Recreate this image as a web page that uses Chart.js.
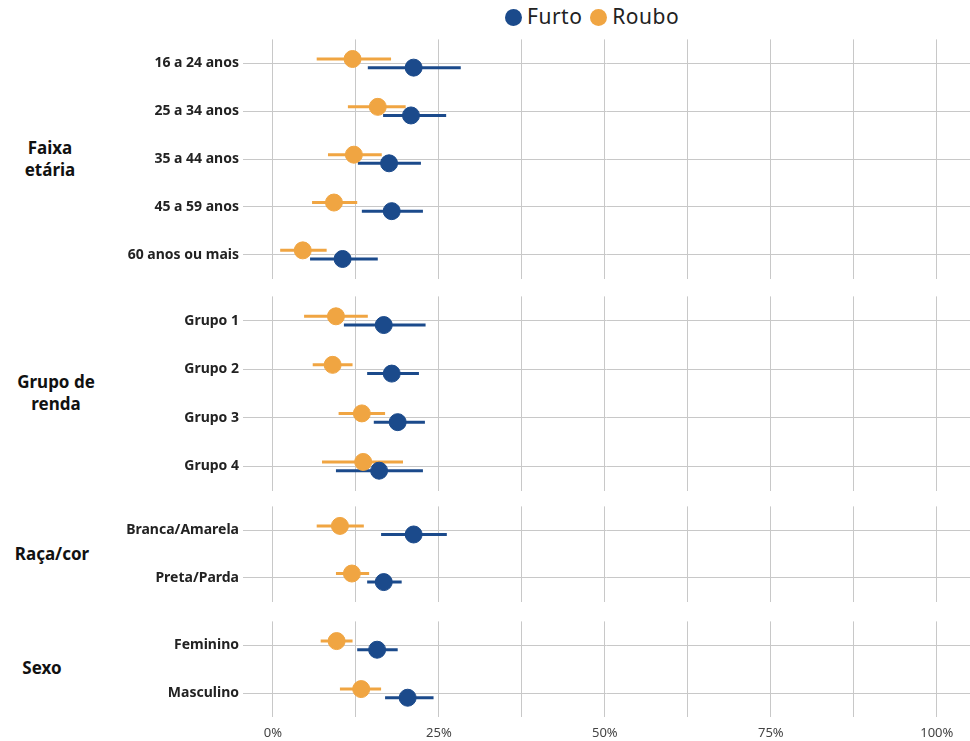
<!DOCTYPE html>
<html><head><meta charset="utf-8">
<script src="https://cdn.jsdelivr.net/npm/chart.js@4.4.1/dist/chart.umd.min.js"></script>
<style>
body{margin:0;background:#fff;width:970px;height:741px;position:relative;overflow:hidden;font-family:"Noto Sans",sans-serif}
.panel{position:absolute;left:0;width:970px}
.facet{position:absolute;left:0;width:100px;text-align:center;font-weight:bold;font-size:17px;color:#111;line-height:22px}
#legend{position:absolute;top:2px;left:505px;font-size:21px;color:#222;letter-spacing:0.5px}
.dot{display:inline-block;width:17px;height:17px;border-radius:50%;vertical-align:-2px;margin-right:5px}
</style></head><body>
<div id="legend"><span class="dot" style="background:#1b4a8b"></span>Furto <span class="dot" style="background:#f0a542;margin-left:2px"></span>Roubo</div>
<div class="facet" style="top:137px">Faixa<br>etária</div>
<div class="facet" style="top:371px;left:6px">Grupo de<br>renda</div>
<div class="facet" style="top:543px;left:2px">Raça/cor</div>
<div class="facet" style="top:657px;left:-8px">Sexo</div>
<div class="panel" style="top:27px;height:264px"><canvas id="p0"></canvas></div>
<div class="panel" style="top:284px;height:219px"><canvas id="p1"></canvas></div>
<div class="panel" style="top:494px;height:120px"><canvas id="p2"></canvas></div>
<div class="panel" style="top:609px;height:140px"><canvas id="p3"></canvas></div>
<script>
// Categories per facet
const idadeCats = ['16 a 24 anos', '25 a 34 anos', '35 a 44 anos', '45 a 59 anos', '60 anos ou mais'];
const rendaCats = ['Grupo 1', 'Grupo 2', 'Grupo 3', 'Grupo 4'];
const racaCats = ['Branca/Amarela', 'Preta/Parda'];
const sexoCats = ['Feminino', 'Masculino'];

// Furto / Roubo (estimate, low, high), in %
const idadeFurto = [21.2, 20.8, 17.5, 17.9, 10.5];
const idadeFurtoLo = [14.3, 16.6, 12.8, 13.4, 5.6];
const idadeFurtoHi = [28.3, 26.1, 22.3, 22.6, 15.8];
const idadeRoubo = [12.0, 15.8, 12.2, 9.2, 4.5];
const idadeRouboLo = [6.6, 11.3, 8.3, 5.9, 1.1];
const idadeRouboHi = [17.8, 20.0, 16.4, 12.7, 8.1];

const rendaFurto = [16.7, 17.9, 18.8, 16.0];
const rendaFurtoLo = [10.7, 14.2, 15.2, 9.5];
const rendaFurtoHi = [23.0, 22.0, 22.9, 22.6];
const rendaRoubo = [9.5, 9.0, 13.4, 13.6];
const rendaRouboLo = [4.7, 6.0, 9.9, 7.4];
const rendaRouboHi = [14.3, 12.0, 16.9, 19.6];

const racaFurto = [21.2, 16.7];
const racaFurtoLo = [16.3, 14.2];
const racaFurtoHi = [26.2, 19.4];
const racaRoubo = [10.1, 11.9];
const racaRouboLo = [6.6, 9.5];
const racaRouboHi = [13.7, 14.5];

const sexoFurto = [15.7, 20.3];
const sexoFurtoLo = [12.7, 16.9];
const sexoFurtoHi = [18.8, 24.2];
const sexoRoubo = [9.6, 13.3];
const sexoRouboLo = [7.2, 10.1];
const sexoRouboHi = [12.0, 16.3];

const xTicks = [0, 25, 50, 75, 100];

const FURTO = '#1b4a8b', ROUBO = '#f0a542';
const DODGE = 0.09;

const errorBars = {
  id: 'errorBars',
  beforeDatasetsDraw(chart) {
    const ctx = chart.ctx, xs = chart.scales.x, ys = chart.scales.y;
    chart.data.datasets.forEach((ds) => {
      ctx.save();
      ctx.strokeStyle = ds.backgroundColor;
      ctx.lineWidth = 3;
      ds.data.forEach((p) => {
        const y = ys.getPixelForValue(p.y);
        ctx.beginPath();
        ctx.moveTo(xs.getPixelForValue(p.lo), y);
        ctx.lineTo(xs.getPixelForValue(p.hi), y);
        ctx.stroke();
      });
      ctx.restore();
    });
  },
};

function makePanel(id, cats, f, fl, fh, r, rl, rh, showX) {
  const toPts = (v, lo, hi, off) => v.map((val, i) => ({ x: val, y: i + off, lo: lo[i], hi: hi[i] }));
  new Chart(document.getElementById(id), {
    type: 'scatter',
    data: {
      datasets: [
        { label: 'Roubo', data: toPts(r, rl, rh, -DODGE), backgroundColor: ROUBO, borderColor: ROUBO, pointRadius: 8.5 },
        { label: 'Furto', data: toPts(f, fl, fh, DODGE), backgroundColor: FURTO, borderColor: FURTO, pointRadius: 8.5 },
      ],
    },
    plugins: [errorBars],
    options: {
      responsive: true,
      maintainAspectRatio: false,
      animation: false,
      layout: { padding: 0, autoPadding: false },
      plugins: { legend: { display: false }, tooltip: { enabled: false } },
      scales: {
        x: {
          min: -4.5, max: 105,
          border: { display: false },
          grid: { color: '#c8c8c8', drawTicks: false },
          afterBuildTicks: (ax) => { ax.ticks = [0, 12.5, 25, 37.5, 50, 62.5, 75, 87.5, 100].map((v) => ({ value: v })); },
          afterFit: showX ? undefined : (ax) => { ax.height = 0; },
          ticks: {
            display: showX,
            padding: 8,
            color: '#444',
            font: { family: "'Noto Sans', sans-serif", size: 13 },
            callback: (v) => (xTicks.includes(v) ? v + '%' : ''),
          },
        },
        y: {
          reverse: true,
          min: -0.5, max: cats.length - 0.5,
          border: { display: false },
          grid: { color: '#c8c8c8', tickLength: 0 },
          afterBuildTicks: (ax) => { ax.ticks = cats.map((c, i) => ({ value: i })); },
          afterFit: (ax) => { ax.width = 243; },
          ticks: {
            padding: 4,
            color: '#222',
            font: { family: "'Noto Sans', sans-serif", size: 14, weight: 'bold' },
            callback: (v) => cats[v],
          },
        },
      },
    },
  });
}

makePanel('p0', idadeCats, idadeFurto, idadeFurtoLo, idadeFurtoHi, idadeRoubo, idadeRouboLo, idadeRouboHi, false);
makePanel('p1', rendaCats, rendaFurto, rendaFurtoLo, rendaFurtoHi, rendaRoubo, rendaRouboLo, rendaRouboHi, false);
makePanel('p2', racaCats, racaFurto, racaFurtoLo, racaFurtoHi, racaRoubo, racaRouboLo, racaRouboHi, false);
makePanel('p3', sexoCats, sexoFurto, sexoFurtoLo, sexoFurtoHi, sexoRoubo, sexoRouboLo, sexoRouboHi, true);
</script>
</body></html>
